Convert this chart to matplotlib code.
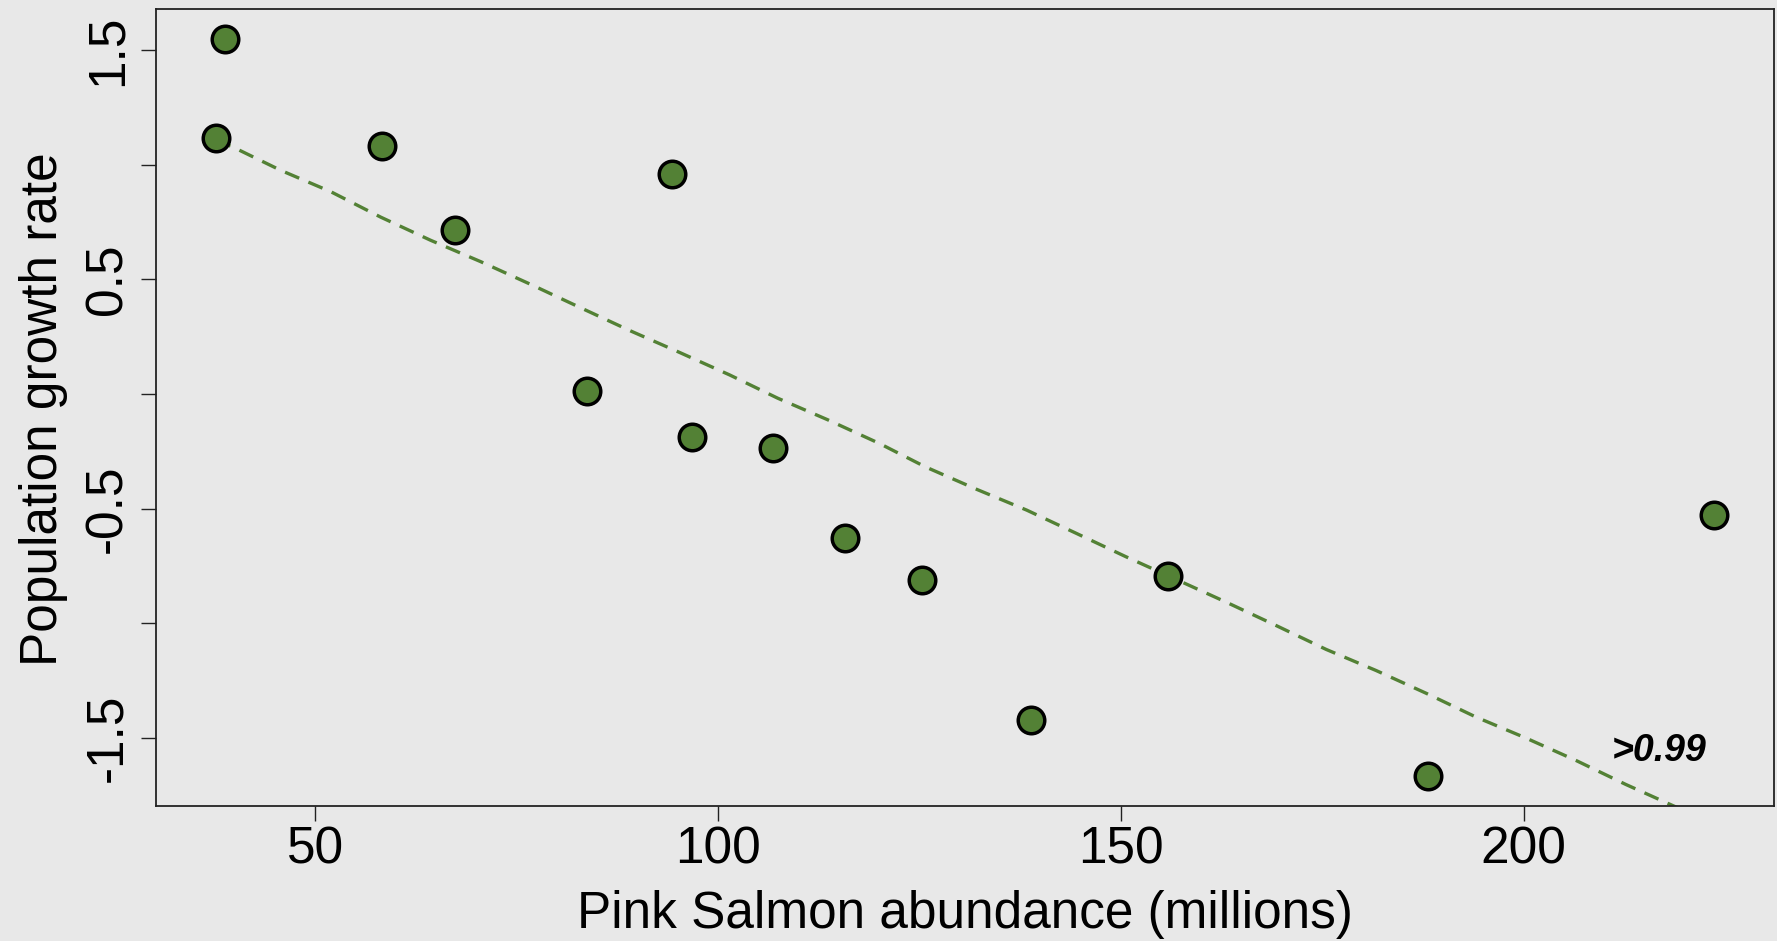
import matplotlib
matplotlib.use("Agg")
import matplotlib.pyplot as plt

# ---- data ----
abundance = [38.8, 37.6, 58.3, 67.3, 94.3, 83.7, 96.8, 106.8, 115.8, 125.3, 138.8, 155.9, 188.2, 223.7]
growth    = [1.551, 1.118, 1.082, 0.714, 0.958, 0.014, -0.186, -0.237, -0.628, -0.810, -1.422, -0.792, -1.668, -0.528]

fit_x = [37.6, 39.5, 45.7, 51.9, 58.1, 64.3, 70.5, 76.7, 82.9, 89.1, 95.0, 101.4, 107.4, 113.6,
         120.0, 125.7, 132.2, 138.3, 144.5, 150.6, 156.9, 163.1, 169.3, 175.5, 181.7, 187.9,
         194.1, 200.2, 206.5, 212.7, 218.9, 223.7]
fit_y = [1.10, 1.082, 0.976, 0.883, 0.772, 0.671, 0.578, 0.479, 0.377, 0.276, 0.185, 0.084, -0.018,
         -0.112, -0.215, -0.317, -0.417, -0.506, -0.608, -0.709, -0.809, -0.908, -1.010, -1.114,
         -1.206, -1.305, -1.409, -1.499, -1.598, -1.703, -1.801, -1.87]

xticks = [50, 100, 150, 200]
yticks = [-1.5, -1.0, -0.5, 0.0, 0.5, 1.0, 1.5]
ytick_labels = ["-1.5", "", "-0.5", "", "0.5", "", "1.5"]
annotation = ">0.99"
xlabel = "Pink Salmon abundance (millions)"
ylabel = "Population growth rate"

# ---- style ----
W, H = 1777, 941
bg = "#E8E8E8"
green = "#538135"
font = "Liberation Sans"
fs = 37

plt.rcParams["font.family"] = [font, "DejaVu Sans"]

fig = plt.figure(figsize=(W / 100, H / 100), dpi=100, facecolor=bg)
ax = fig.add_axes([156 / W, 1 - 806 / H, (1774 - 156) / W, (806 - 9) / H], facecolor=bg)

ax.plot(fit_x, fit_y, color=green, lw=2.4, linestyle=(0, (4.6, 3.0)), zorder=2)
ax.scatter(abundance, growth, s=365, c=green, edgecolors="black", linewidths=2.5, zorder=3)

ax.text(216.9, -1.559, annotation, fontsize=27, fontweight="bold", fontstyle="italic",
        ha="center", va="center", color="black")

ax.set_xlim(30.2, 231.1)
ax.set_ylim(-1.797, 1.680)

ax.set_xticks(xticks)
ax.set_xticklabels([str(v) for v in xticks], fontsize=fs)
ax.set_yticks(yticks)
ax.set_yticklabels(ytick_labels, fontsize=fs, rotation=90, va="center")

ax.tick_params(axis="both", direction="out", length=11, width=1.0, color="#222222")
ax.tick_params(axis="x", pad=3)
ax.tick_params(axis="y", pad=6)

for sp in ax.spines.values():
    sp.set_linewidth(1.3)
    sp.set_color("#222222")

fig.text(965 / W, 1 - 928 / H, xlabel, fontsize=fs, ha="center", va="baseline")
fig.text(44 / W, 1 - 409 / H, ylabel, fontsize=fs, ha="center", va="center", rotation=90)

fig.savefig("out.png", dpi=100, facecolor=bg)
